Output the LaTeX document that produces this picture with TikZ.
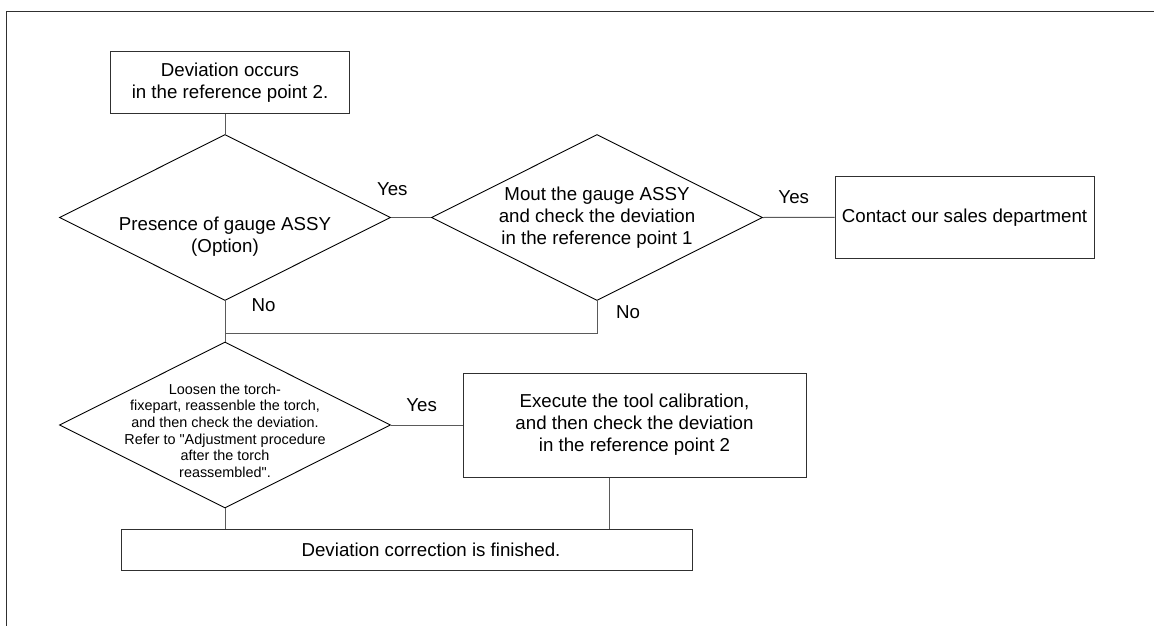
\documentclass[tikz,border=0pt]{standalone}
\usepackage{fontspec}
\setmainfont{Liberation Sans}
\usepackage{xcolor}
\usetikzlibrary{calc,shapes.geometric}
\definecolor{edgex}{HTML}{303030}
\definecolor{wirex}{HTML}{5A5A5A}
\tikzset{
  box/.style={draw=edgex,line width=1pt,align=center,inner sep=0pt,font=\fontsize{18.7}{22}\selectfont},
  dia/.style={draw=black,line width=0.9pt,shape=diamond,minimum width=331pt,minimum height=166pt,inner sep=0pt},
  ln/.style={draw=wirex,line width=1pt},
  lab/.style={font=\fontsize{18.7}{22}\selectfont,inner sep=0pt,align=center}
}
\begin{document}
\begin{tikzpicture}[x=1pt,y=-1pt]
\useasboundingbox (0,0) rectangle (1154,626);
\draw[edgex,line width=1pt] (6.7,626) -- (6.7,11.7) -- (1154,11.7);
\node[box,minimum width=238.6pt,minimum height=62pt] (start) at (230,82.7) {Deviation occurs\\in the reference point 2.};
\node[dia,label={[lab,yshift=-19pt]center:{Presence of gauge ASSY\\(Option)}}] (d1) at (225,217.5) {};
\node[dia,label={[lab]center:{Mout the gauge ASSY\\and check the deviation\\in the reference point 1}}] (d2) at (597,217.5) {};
\node[box,minimum width=259pt,minimum height=82.7pt] (ct) at (964.5,217.4) {Contact our sales department};
\node[dia,label={[lab,font=\fontsize{14.4}{16.7}\selectfont,yshift=-5.7pt]center:{Loosen the torch-\\fixepart, reassenble the torch,\\and then check the deviation.\\Refer to \textquotedbl Adjustment procedure\\after the torch\\reassembled\textquotedbl.}}] (d3) at (225,425) {};
\node[box,minimum width=343pt,minimum height=104pt] (ex) at (634.5,425) {Execute the tool calibration,\\and then check the deviation\\in the reference point 2};
\node[box,minimum width=571pt,minimum height=41pt,label={[lab,xshift=24.5pt]center:Deviation correction is finished.}] (fin) at (406.5,549.5) {};
\coordinate (mg) at (225,333.3);
\draw[ln] (start.south -| d1.north) -- (d1.north);
\draw[ln] (d1.east) -- node[lab,xshift=-18.7pt,yshift=28.5pt]{Yes} (d2.west);
\draw[ln] (d2.east) -- node[lab,xshift=-5pt,yshift=19.8pt]{Yes} (ct.west);
\draw[ln] (d1.south) -- node[lab,xshift=38.6pt,yshift=16.4pt]{No} (d3.north);
\draw[ln] (d2.south) |- node[lab,pos=0,xshift=31pt,yshift=-11pt]{No} (mg);
\draw[ln] (d3.east) -- node[lab,xshift=-5pt,yshift=20pt]{Yes} (ex.west);
\draw[ln] (d3.south) -- (d3.south |- fin.north);
\draw[ln] ([xshift=-25.5pt]ex.south) -- ([xshift=-25.5pt]ex.south |- fin.north);
\end{tikzpicture}
\end{document}
